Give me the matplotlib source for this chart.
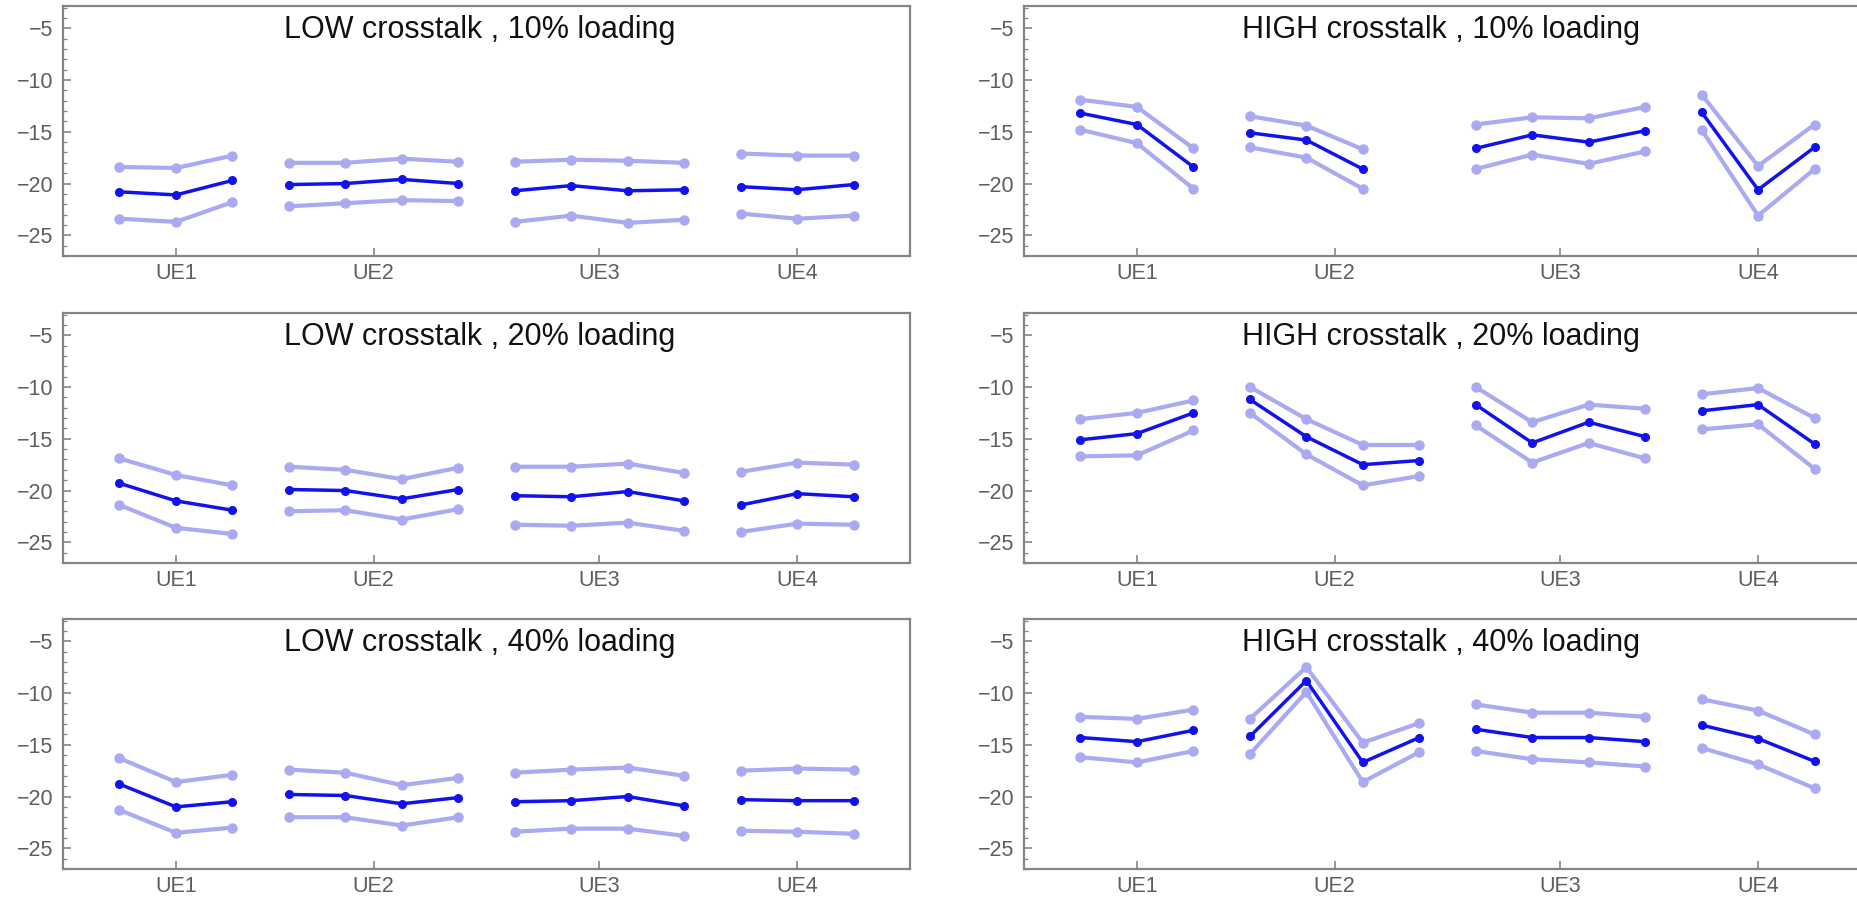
import numpy as np
import matplotlib.pyplot as plt
from matplotlib.ticker import MultipleLocator

# UE groups: number of points per UE along the x axis
ue_labels = ['UE1', 'UE2', 'UE3', 'UE4']
group_sizes = [3, 4, 4, 3]

# LOW crosstalk (upper / mean / lower), dB
low10_hi = [-18.4, -18.5, -17.3, -18.0, -18.0, -17.6, -17.9, -17.9, -17.7, -17.8, -18.0, -17.1, -17.3, -17.3]
low10_md = [-20.8, -21.1, -19.7, -20.1, -20.0, -19.6, -20.0, -20.7, -20.2, -20.7, -20.6, -20.3, -20.6, -20.1]
low10_lo = [-23.4, -23.7, -21.8, -22.2, -21.9, -21.6, -21.7, -23.7, -23.1, -23.8, -23.5, -22.9, -23.4, -23.1]

low20_hi = [-16.9, -18.5, -19.5, -17.7, -18.0, -18.9, -17.8, -17.7, -17.7, -17.4, -18.3, -18.2, -17.3, -17.5]
low20_md = [-19.3, -21.0, -21.9, -19.9, -20.0, -20.8, -19.9, -20.5, -20.6, -20.1, -21.0, -21.4, -20.3, -20.6]
low20_lo = [-21.4, -23.6, -24.2, -22.0, -21.9, -22.8, -21.8, -23.3, -23.4, -23.1, -23.9, -24.0, -23.2, -23.3]

low40_hi = [-16.3, -18.6, -17.9, -17.4, -17.7, -18.9, -18.2, -17.7, -17.4, -17.2, -18.0, -17.5, -17.3, -17.4]
low40_md = [-18.8, -21.0, -20.5, -19.8, -19.9, -20.7, -20.1, -20.5, -20.4, -20.0, -20.9, -20.3, -20.4, -20.4]
low40_lo = [-21.3, -23.5, -23.0, -22.0, -22.0, -22.8, -22.0, -23.4, -23.1, -23.1, -23.8, -23.3, -23.4, -23.6]

# HIGH crosstalk (upper / mean / lower), dB
high10_hi = [-11.9, -12.6, -16.6, -13.5, -14.4, -16.7, None, -14.3, -13.6, -13.7, -12.6, -11.4, -18.3, -14.3]
high10_md = [-13.2, -14.3, -18.4, -15.1, -15.8, -18.6, None, -16.6, -15.3, -16.0, -14.9, -13.1, -20.6, -16.5]
high10_lo = [-14.8, -16.1, -20.5, -16.5, -17.5, -20.5, None, -18.6, -17.2, -18.1, -16.9, -14.8, -23.1, -18.6]

high20_hi = [-13.1, -12.5, -11.3, -10.0, -13.1, -15.6, -15.6, -10.0, -13.4, -11.7, -12.1, -10.7, -10.1, -13.0]
high20_md = [-15.1, -14.5, -12.5, -11.2, -14.8, -17.5, -17.1, -11.7, -15.4, -13.4, -14.8, -12.3, -11.7, -15.5]
high20_lo = [-16.7, -16.6, -14.2, -12.5, -16.5, -19.5, -18.6, -13.7, -17.3, -15.4, -16.9, -14.1, -13.6, -17.9]

high40_hi = [-12.3, -12.5, -11.6, -12.5, -7.5, -14.8, -12.9, -11.1, -11.9, -11.9, -12.3, -10.6, -11.7, -14.0]
high40_md = [-14.3, -14.7, -13.6, -14.2, -8.8, -16.7, -14.3, -13.5, -14.3, -14.3, -14.7, -13.1, -14.4, -16.6]
high40_lo = [-16.2, -16.7, -15.6, -15.9, -9.9, -18.6, -15.7, -15.6, -16.4, -16.7, -17.1, -15.3, -16.9, -19.2]

panels = [
    ('LOW crosstalk , 10% loading', low10_hi, low10_md, low10_lo),
    ('HIGH crosstalk , 10% loading', high10_hi, high10_md, high10_lo),
    ('LOW crosstalk , 20% loading', low20_hi, low20_md, low20_lo),
    ('HIGH crosstalk , 20% loading', high20_hi, high20_md, high20_lo),
    ('LOW crosstalk , 40% loading', low40_hi, low40_md, low40_lo),
    ('HIGH crosstalk , 40% loading', high40_hi, high40_md, high40_lo),
]

light = '#aaaaf2'
dark = '#1212ee'
frame = '#858585'
tickc = '#5e5e5e'

plt.rcParams['font.family'] = ['Liberation Sans', 'DejaVu Sans']

fig = plt.figure(figsize=(18.57, 9.0), dpi=100)

W = 847 / 1857
H = 250 / 900
lefts = [63 / 1857, 1024 / 1857]
bottoms = [1 - 256 / 900, 1 - 563 / 900, 1 - 869 / 900]

x = np.arange(1, sum(group_sizes) + 1)
starts = np.cumsum([0] + group_sizes[:-1])
centers = [x[s:s + n].mean() for s, n in zip(starts, group_sizes)]


def draw_groups(ax, vals, color, lw, ms, z):
    # one polyline per UE, gaps between UEs
    for s, n in zip(starts, group_sizes):
        xs = [xx for xx, v in zip(x[s:s + n], vals[s:s + n]) if v is not None]
        ys = [v for v in vals[s:s + n] if v is not None]
        ax.plot(xs, ys, '-o', color=color, lw=lw, ms=ms, mec=color, zorder=z,
                solid_capstyle='round', clip_on=False)


for i, (title, hi, md, lo) in enumerate(panels):
    row, col = divmod(i, 2)
    ax = fig.add_axes([lefts[col], bottoms[row], W, H])
    draw_groups(ax, hi, light, 3.0, 6.5, 2)
    draw_groups(ax, lo, light, 3.0, 6.5, 2)
    draw_groups(ax, md, dark, 2.5, 5.5, 3)

    ax.set_xlim(0, 15)
    ax.set_ylim(-27.0, -2.85)
    ax.set_xticks(centers)
    ax.set_xticklabels(ue_labels)
    ax.set_yticks([-5, -10, -15, -20, -25])
    ax.set_yticklabels(['\u22125', '\u221210', '\u221215', '\u221220', '\u221225'])
    ax.yaxis.set_minor_locator(MultipleLocator(1))
    ax.tick_params(axis='both', which='major', direction='in', length=6, width=1.2,
                   color=frame, labelcolor=tickc, labelsize=15.5, pad=7)
    ax.tick_params(axis='y', which='minor', direction='in', length=3, width=0.9, color=frame)
    ax.tick_params(axis='x', which='major', pad=5)
    for sp in ax.spines.values():
        sp.set_color(frame)
        sp.set_linewidth(1.6)
    ax.text(0.492, 0.905, title, transform=ax.transAxes, ha='center', va='center',
            fontsize=22, color='#111111')

fig.savefig('out.png', dpi=100)
